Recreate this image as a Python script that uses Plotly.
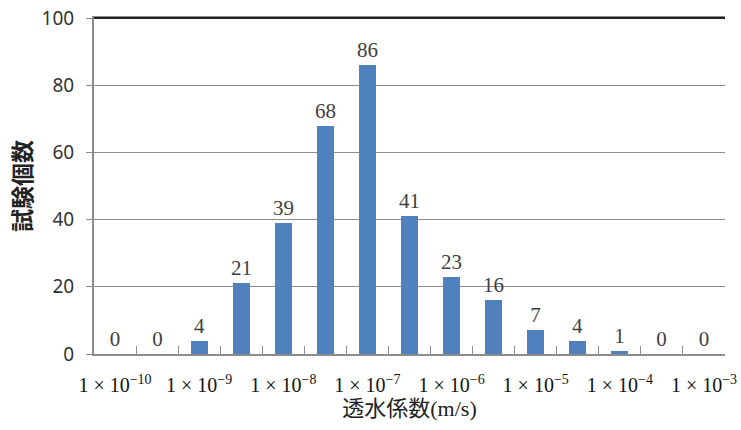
import plotly.graph_objects as go

# Data
bin_positions = list(range(15))
counts = [0, 0, 4, 21, 39, 68, 86, 41, 23, 16, 7, 4, 1, 0, 0]
tick_positions = [0, 2, 4, 6, 8, 10, 12, 14]
tick_exponents = ["-10", "-9", "-8", "-7", "-6", "-5", "-4", "-3"]
tick_labels = [f"1 × 10<sup>{e.replace('-', '−')}</sup>" for e in tick_exponents]
boundary_ticks = [i + 0.5 for i in range(14)]

x_title = "透水係数(m/s)"
y_title = "試験個数"

serif = "Liberation Serif, 'Noto Sans CJK JP', serif"
sans = "'Noto Sans', 'Noto Sans CJK JP', sans-serif"

fig = go.Figure()
fig.add_trace(go.Bar(
    x=bin_positions,
    y=counts,
    width=0.4,
    marker=dict(color="#4F81BD", line=dict(width=0)),
    text=[str(c) for c in counts],
    textposition="outside",
    constraintext="none",
    textfont=dict(family=serif, size=21, color="#404040"),
    cliponaxis=False,
))

fig.update_layout(
    width=741, height=430,
    margin=dict(l=94, r=16, t=18, b=76),
    paper_bgcolor="white", plot_bgcolor="white",
    showlegend=False,
    bargap=0,
)
fig.update_xaxes(
    range=[-0.5, 14.5], automargin=False,
    tickmode="array", tickvals=tick_positions, ticktext=tick_labels,
    ticks="", showgrid=False,
    tickfont=dict(family=serif, size=20, color="#111"),
    ticklabelstandoff=12,
    showline=True, linecolor="#8c8c8c", linewidth=2, mirror=True,
    minor=dict(tickmode="array", tickvals=boundary_ticks, ticks="inside",
               ticklen=8, tickcolor="#8c8c8c", tickwidth=1, showgrid=False),
    title=dict(text=x_title, font=dict(family=serif, size=22, color="#222"), standoff=4),
    zeroline=False,
)
fig.update_yaxes(
    range=[0, 100], dtick=20, automargin=False,
    showgrid=True, gridcolor="#8c8c8c", gridwidth=1,
    ticks="outside", ticklen=6, tickcolor="#8c8c8c",
    tickfont=dict(family=sans, size=19, color="#333"),
    ticklabelstandoff=8,
    showline=True, linecolor="#8c8c8c", linewidth=2,
    title=dict(text=y_title, font=dict(family=sans, size=23, color="#222", weight="bold"), standoff=4),
    zeroline=False,
)
# dark top border line
fig.add_shape(type="line", xref="paper", yref="paper", x0=0, x1=1, y0=1, y1=1,
              line=dict(color="#222", width=2))

fig.write_html("out.html", config={"displayModeBar": False},
               post_script="document.body.style.margin='0';")
